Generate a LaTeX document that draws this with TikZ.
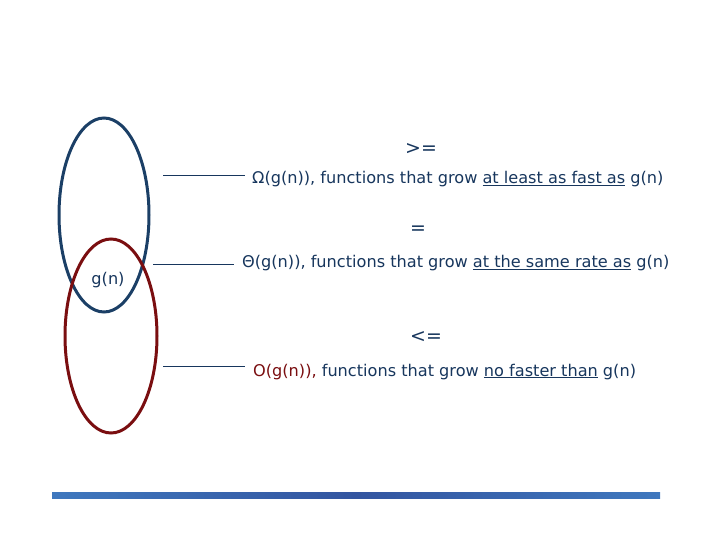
\documentclass[tikz,border=0pt]{standalone}
\usepackage{fontspec}
\setmainfont{DejaVu Sans}
\definecolor{navy}{HTML}{17365D}
\definecolor{ellblue}{HTML}{1B3F66}
\definecolor{ellred}{HTML}{7A0E10}
\definecolor{barA}{HTML}{3F78BE}
\definecolor{barB}{HTML}{3355A0}
\tikzset{
  lbl/.style={font=\fontsize{16.2}{18}\selectfont, text=navy, inner sep=0pt},
  rel/.style={font=\fontsize{19}{21}\selectfont, text=navy, inner sep=0pt},
  conn/.style={draw=navy, line width=0.8pt},
}
\begin{document}
\begin{tikzpicture}[x=1bp,y=-1bp]
\useasboundingbox (0,0) rectangle (720,540);
% ellipses
\draw[ellblue, line width=3bp] (104,215) ellipse [x radius=45, y radius=97];
\draw[ellred, line width=3bp] (111,336) ellipse [x radius=46, y radius=97];
\node[lbl] (g) at (108,280) {g(n)};
% relation symbols
\node[rel] (ge) at (421,149) {>=};
\node[rel] (eq) at (418,230) {=};
\node[rel] (le) at (426,337) {<=};
% descriptions
\coordinate (l1) at (163,175);
\coordinate (l2) at (153,264);
\coordinate (l3) at (163,366);
\node[lbl, anchor=base west] (om) at (252,184) {Ω(g(n)), functions that grow \underline{at least as fast as} g(n)};
\node[lbl, anchor=base west] (th) at (242,268) {Θ(g(n)), functions that grow \underline{at the same rate as} g(n)};
\node[lbl, anchor=base west] (oh) at (253,376) {\textcolor{ellred}{O(g(n)),} functions that grow \underline{no faster than} g(n)};
\draw[conn] (l1) -- ([xshift=-7bp]l1 -| om.west);
\draw[conn] (l2) -- ([xshift=-8bp]l2 -| th.west);
\draw[conn] (l3) -- ([xshift=-8bp]l3 -| oh.west);
% bottom bar
\shade[left color=barA, right color=barA, middle color=barB] (52,492) rectangle (660,498);
\end{tikzpicture}
\end{document}
